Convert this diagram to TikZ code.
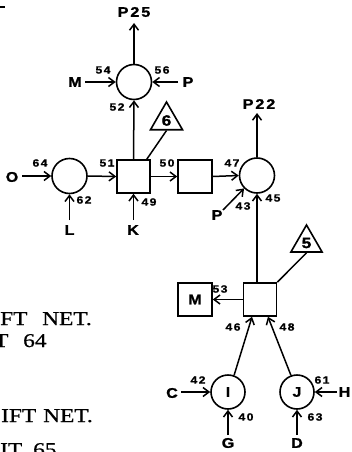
\documentclass[tikz,border=0pt]{standalone}
\usepackage{fontspec}
\setmainfont{Liberation Sans}
\newfontfamily\labfont[FakeStretch=1.15,LetterSpace=14,FakeBold=1.2]{Liberation Sans}
\newfontfamily\oldfont[FakeStretch=1.2,FakeBold=0.8]{Liberation Serif}
\usetikzlibrary{arrows.meta,shapes.geometric,calc}
\begin{document}
\begin{tikzpicture}[x=1pt,y=-1pt,
  ln/.style={line width=1.5pt},
  arr/.style={line width=1.5pt,-{Straight Barb[length=6pt,width=9pt,line width=1.5pt]}},
  circ/.style={circle,draw,line width=1.6pt,minimum size=35pt,inner sep=0pt,font=\labfont\bfseries\fontsize{14}{14}\selectfont},
  sq/.style={rectangle,draw,line width=1.6pt,minimum width=33pt,minimum height=33pt,inner sep=0pt,font=\labfont\bfseries\fontsize{14}{14}\selectfont},
  tri/.style={regular polygon,regular polygon sides=3,draw,line width=1.6pt,minimum size=37pt,inner sep=0pt,font=\labfont\bfseries\fontsize{15}{15}\selectfont},
  lab/.style={inner sep=0pt,font=\labfont\bfseries\fontsize{14}{14}\selectfont},
  num/.style={inner sep=0pt,font=\labfont\bfseries\fontsize{10.5}{10.5}\selectfont},
  old/.style={inner sep=0pt,anchor=base west,font=\oldfont\fontsize{19.5}{19.5}\selectfont}]
\useasboundingbox (0,0) rectangle (351,452);
\clip (0,0) rectangle (351,452);
% shapes
\node[circ] (c1) at (134,82) {};
\node[circ] (c2) at (69.5,176) {};
\node[sq] (b1) at (133.5,176.5) {};
\node[sq,minimum width=34pt] (b2) at (195,176.5) {};
\node[circ] (c3) at (257,175.5) {};
\node[sq] (b3) at (260,299.5) {};
\node[sq,minimum width=34pt] (bM) at (195,299.5) {M};
\node[circ,minimum size=34pt] (cI) at (228,392) {I};
\node[circ,minimum size=34pt] (cJ) at (297,392) {J};
\node[tri] (t6) at (166.5,120.5) {6};
\node[tri,minimum size=36pt] (t5) at (306.5,243) {5};
% letter labels
\node[lab] (lP25) at (134,12) {P25};
\node[lab] (lM) at (75,82) {M};
\node[lab] (lP1) at (188,82) {P};
\node[lab] (lO) at (12,177) {O};
\node[lab] (lL) at (69.5,230) {L};
\node[lab] (lK) at (133,230) {K};
\node[lab] (lP2) at (217,215) {P};
\node[lab] (lP22) at (259,104) {P22};
\node[lab] (lC) at (172,393) {C};
\node[lab] (lG) at (228,443) {G};
\node[lab] (lH) at (344.5,392) {H};
\node[lab] (lD) at (297,443) {D};
% free ends
\coordinate (eP25) at (134,23);
\coordinate (eM) at (85,82);
\coordinate (eP1) at (178,82);
\coordinate (eO) at (22,176);
\coordinate (eL) at (69.5,220);
\coordinate (eK) at (133.5,220);
\coordinate (eP2) at (223,210);
\coordinate (eP22) at (257,113);
\coordinate (eC) at (181,392);
\coordinate (eG) at (228,435);
\coordinate (eH) at (337,392);
\coordinate (eD) at (297,435);
% connectors
\draw[arr] (c1.north) -- (eP25);
\draw[arr] (eM) -- (c1.west);
\draw[arr] (eP1) -- (c1.east);
\draw[arr] (b1.north) -- (c1.south);
\draw[ln] (t6.south) -- ($(b1.north east)+(-4,0)$);
\draw[arr] (eO) -- (c2.west);
\draw[arr] (eL) -- (c2.south);
\draw[arr] (c2.east) -- (b1.west);
\draw[arr] (eK) -- (b1.south);
\draw[arr] (b1.east) -- (b2.west);
\draw[arr] (b2.east) -- (c3.west);
\draw[arr] (eP2) -- (c3.225);
\draw[arr] (c3.south |- b3.north) -- (c3.south);
\draw[arr] (c3.north) -- (eP22);
\draw[ln] (t5.south) -- (b3.north east);
\draw[arr] (b3.west) -- (bM.east);
\draw[arr] (cI.70) -- ($(b3.south west)!0.27!(b3.south east)$);
\draw[arr] (cJ.110) -- ($(b3.south west)!0.73!(b3.south east)$);
\draw[arr] (eC) -- (cI.west);
\draw[arr] (eG) -- (cI.south);
\draw[arr] (eH) -- (cJ.east);
\draw[arr] (eD) -- (cJ.south);
% numbers
\node[num] (n54) at (103,70) {54};
\node[num] (n56) at (162,70) {56};
\node[num] (n52) at (117,107) {52};
\node[num] (n64) at (40,163) {64};
\node[num] (n62) at (84,200) {62};
\node[num] (n51) at (107,163) {51};
\node[num] (n49) at (149,202) {49};
\node[num] (n50) at (167,163) {50};
\node[num] (n47) at (232,163) {47};
\node[num] (n43) at (243,206) {43};
\node[num] (n45) at (273,198) {45};
\node[num] (n53) at (220,289) {53};
\node[num] (n46) at (233,327) {46};
\node[num] (n48) at (287,327) {48};
\node[num] (n42) at (198,380) {42};
\node[num] (n40) at (246,417) {40};
\node[num] (n61) at (322,380) {61};
\node[num] (n63) at (315,417) {63};
% left margin text
\node[old] (x1) at (0,325) {FT};
\node[old] (x2) at (42,325) {NET.};
\node[old] (x3) at (-6,347) {T};
\node[old] (x4) at (23,347) {64};
\node[old] (x5) at (1,422) {IFT};
\node[old] (x6) at (43,422) {NET.};
\node[old] (x7) at (0,456) {IT};
\node[old] (x8) at (33,456) {65};
% top-left mark
\draw[line width=2pt] (0,7.3) -- (4.5,7.3);
\end{tikzpicture}
\end{document}
